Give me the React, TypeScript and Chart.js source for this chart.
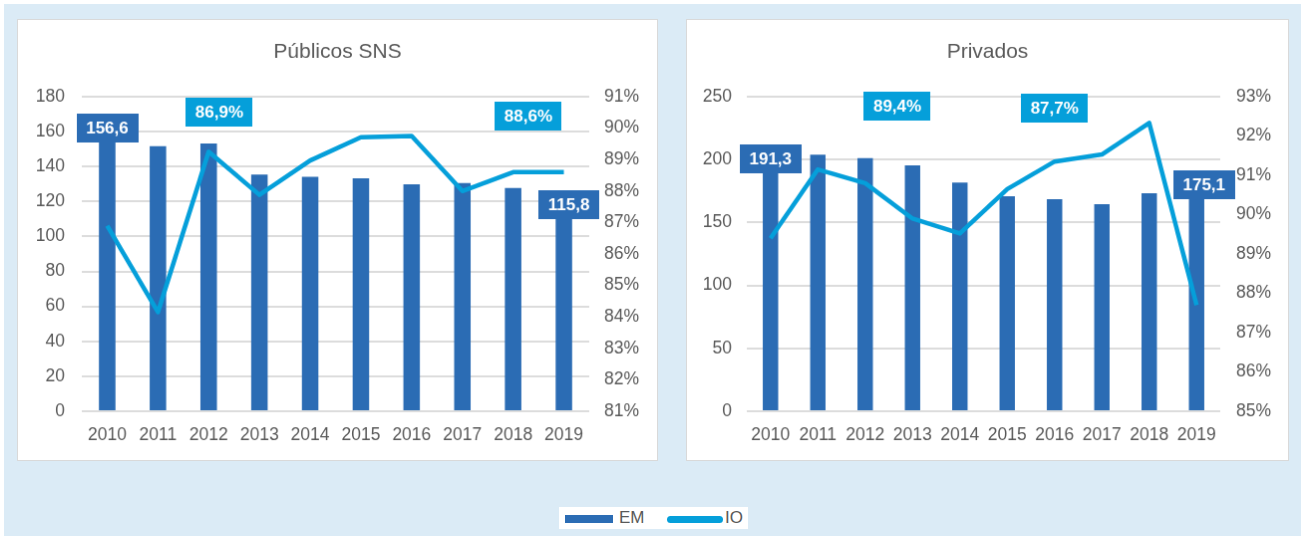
import React, { useEffect, useRef } from "react";
import { Chart, registerables } from "chart.js";

Chart.register(...registerables);

const FONT = "'Liberation Sans', Arial, sans-serif";
Chart.defaults.font.family = FONT;

// ---------- data ----------
const years = ["2010", "2011", "2012", "2013", "2014", "2015", "2016", "2017", "2018", "2019"];

const emPublicos = [156.6, 151.7, 153.2, 135.4, 134.2, 133.3, 129.9, 130.6, 127.8, 115.8];
const ioPublicos = [86.9, 84.15, 89.25, 87.88, 88.97, 89.71, 89.75, 88.0, 88.6, 88.6];

const emPrivados = [191.3, 203.9, 201.2, 195.4, 181.7, 170.9, 168.5, 164.6, 173.3, 175.1];
const ioPrivados = [89.4, 91.15, 90.8, 89.9, 89.52, 90.65, 91.35, 91.53, 92.33, 87.7];

const publicosLeftTicks = { min: 0, max: 180, step: 20 };
const publicosRightTicks = { min: 81, max: 91, step: 1 };
const privadosLeftTicks = { min: 0, max: 250, step: 50 };
const privadosRightTicks = { min: 85, max: 93, step: 1 };

const seriesNames = ["EM", "IO"];

// ---------- styles ----------
const BAR_COLOR = "#2b6cb4";
const LINE_COLOR = "#059fda";
const TEXT_COLOR = "#595959";
const GRID_COLOR = "#dcdcdc";
const TICK_SIZE = 17.5;

const fmt = (v: number) => v.toFixed(1).replace(".", ",");

const boxLabelPlugin = {
  id: "boxLabels",
  afterDatasetsDraw(chart: any, _args: any, opts: any) {
    const ctx = chart.ctx;
    const xs = chart.scales.x;
    const barMeta = chart.getDatasetMeta(0);
    ctx.save();
    ctx.font = `bold 17px ${FONT}`;
    ctx.textAlign = "center";
    ctx.textBaseline = "middle";
    const drawBox = (text: string, cx: number, cy: number, color: string) => {
      const w = ctx.measureText(text).width + 19;
      const h = 29;
      ctx.fillStyle = color;
      ctx.fillRect(Math.round(cx - w / 2), Math.round(cy - h / 2), Math.round(w), h);
      ctx.fillStyle = "#ffffff";
      ctx.fillText(text, cx, cy + 1);
    };
    for (const l of opts.bars || []) {
      const el = barMeta.data[l.index];
      const v = chart.data.datasets[0].data[l.index];
      drawBox(fmt(v), el.x + (l.dx || 0), el.y + l.dy, BAR_COLOR);
    }
    for (const l of opts.io || []) {
      const v = chart.data.datasets[1].data[l.index];
      const cx = xs.getPixelForValue(l.at);
      const cy = chart.chartArea.top + l.top;
      drawBox(fmt(v) + "%", cx, cy, LINE_COLOR);
    }
    ctx.restore();
  },
};

type Cfg = {
  title: string;
  em: number[];
  io: number[];
  left: { min: number; max: number; step: number };
  right: { min: number; max: number; step: number };
  leftWidth: number;
  rightWidth: number;
  leftPad: number;
  rightPad: number;
  labels: any;
};

function Panel({ cfg, style }: { cfg: Cfg; style: React.CSSProperties }) {
  const ref = useRef<HTMLCanvasElement>(null);
  useEffect(() => {
    if (!ref.current) return;
    const chart = new Chart(ref.current, {
      type: "bar",
      data: {
        labels: years,
        datasets: [
          {
            type: "bar",
            label: seriesNames[0],
            data: cfg.em,
            backgroundColor: BAR_COLOR,
            barPercentage: 0.325,
            categoryPercentage: 1,
            yAxisID: "y",
            order: 1,
          },
          {
            type: "line",
            label: seriesNames[1],
            data: cfg.io,
            borderColor: LINE_COLOR,
            borderWidth: 4.5,
            pointRadius: 0,
            tension: 0,
            borderJoinStyle: "round",
            yAxisID: "y1",
            order: 0,
          } as any,
        ],
      },
      plugins: [boxLabelPlugin],
      options: {
        responsive: false,
        animation: false,
        layout: { padding: 0 },
        plugins: {
          legend: { display: false },
          tooltip: { enabled: false },
          title: {
            display: true,
            text: cfg.title,
            color: TEXT_COLOR,
            font: { size: 21, weight: "normal" as any, family: FONT },
            padding: { top: 19.4, bottom: 32.4 },
          },
          boxLabels: cfg.labels,
        } as any,
        scales: {
          x: {
            offset: true,
            grid: { display: false, drawTicks: false },
            border: { display: false },
            ticks: { color: TEXT_COLOR, font: { size: TICK_SIZE }, padding: 14, maxRotation: 0, autoSkip: false },
            afterFit: (s: any) => {
              s.height = 49;
            },
          },
          y: {
            position: "left",
            min: cfg.left.min,
            max: cfg.left.max,
            grid: { color: GRID_COLOR, lineWidth: 2, drawTicks: false },
            border: { display: false },
            ticks: { stepSize: cfg.left.step, color: TEXT_COLOR, font: { size: TICK_SIZE }, padding: cfg.leftPad },
            afterFit: (s: any) => {
              s.width = cfg.leftWidth;
            },
          },
          y1: {
            position: "right",
            min: cfg.right.min,
            max: cfg.right.max,
            grid: { display: false, drawTicks: false },
            border: { display: false },
            ticks: {
              stepSize: cfg.right.step,
              color: TEXT_COLOR,
              font: { size: TICK_SIZE },
              padding: cfg.rightPad,
              callback: (v: any) => `${v}%`,
            },
            afterFit: (s: any) => {
              s.width = cfg.rightWidth;
            },
          },
        },
      } as any,
    });
    return () => chart.destroy();
  }, [cfg]);
  return (
    <canvas
      ref={ref}
      width={style.width as number}
      height={style.height as number}
      style={{ position: "absolute", background: "#ffffff", border: "1px solid #d9d9d9", ...style }}
    />
  );
}

const publicosCfg: Cfg = {
  title: "Públicos SNS",
  em: emPublicos,
  io: ioPublicos,
  left: publicosLeftTicks,
  right: publicosRightTicks,
  leftWidth: 64,
  rightWidth: 68,
  leftPad: 17,
  rightPad: 15,
  labels: {
    bars: [
      { index: 0, dy: -10 },
      { index: 9, dy: -4, dx: 5 },
    ],
    io: [
      { index: 0, at: 2.21, top: 15.5 },
      { index: 9, at: 8.3, top: 19.5 },
    ],
  },
};

const privadosCfg: Cfg = {
  title: "Privados",
  em: emPrivados,
  io: ioPrivados,
  left: privadosLeftTicks,
  right: privadosRightTicks,
  leftWidth: 60,
  rightWidth: 68,
  leftPad: 15,
  rightPad: 16,
  labels: {
    bars: [
      { index: 0, dy: -11.5 },
      { index: 9, dy: -6.5, dx: 7.5 },
    ],
    io: [
      { index: 0, at: 2.68, top: 9.5 },
      { index: 9, at: 6.0, top: 11.5 },
    ],
  },
};

export default function App() {
  const textStyle: React.CSSProperties = {
    position: "absolute",
    top: 508,
    fontFamily: FONT,
    fontSize: 17,
    lineHeight: "20px",
    color: TEXT_COLOR,
  };
  return (
    <div>
      <div style={{ position: "absolute", left: 4, top: 4, width: 1297, height: 532, background: "#dbebf6" }} />
      <Panel cfg={publicosCfg} style={{ left: 17, top: 19, width: 641, height: 442 }} />
      <Panel cfg={privadosCfg} style={{ left: 686, top: 19, width: 603, height: 442 }} />
      <div style={{ position: "absolute", left: 559, top: 507, width: 189, height: 22, background: "#ffffff" }} />
      <div style={{ position: "absolute", left: 565, top: 515, width: 48, height: 8, background: BAR_COLOR }} />
      <span style={{ ...textStyle, left: 619 }}>{seriesNames[0]}</span>
      <div style={{ position: "absolute", left: 667, top: 515.5, width: 56, height: 7, borderRadius: 3.5, background: LINE_COLOR }} />
      <span style={{ ...textStyle, left: 725 }}>{seriesNames[1]}</span>
    </div>
  );
}
